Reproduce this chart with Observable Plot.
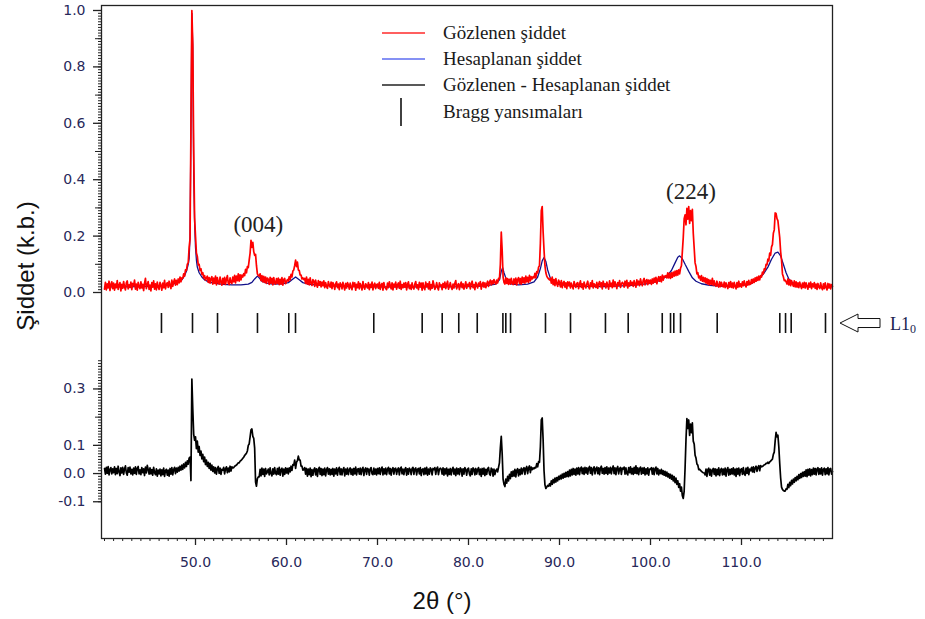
<!DOCTYPE html>
<html><head><meta charset="utf-8">
<script src="https://cdn.jsdelivr.net/npm/d3@7"></script>
<script src="https://cdn.jsdelivr.net/npm/@observablehq/plot@0.6"></script>
<style>body{margin:0;background:#fff}#chart{width:925px;height:619px}</style>
</head><body><div id="chart"></div>
<script>
// Observed intensity, ×0.001, from 2θ = 40.0° in steps of 0.1° (one row per degree)
const obsStart = 40.0, obsStep = 0.1;
const observed = [
12,36,9,31,16,40,7,28,38,14,
33,8,30,17,42,11,26,35,6,29,
15,39,20,9,34,41,13,27,18,37,
10,32,24,44,12,30,8,36,21,14,
38,16,29,7,33,50,14,27,39,11,
26,6,35,19,41,12,31,9,37,20,
11,36,25,8,33,17,43,13,29,35,
18,40,24,14,44,22,37,48,26,43,
28,48,34,55,38,52,50,66,58,80,
78,100,105,160,190,590,1000,880,510,265,
200,140,128,98,100,78,84,64,70,52,
60,44,52,58,36,53,33,49,56,30,
51,32,58,27,53,35,30,55,37,26,
50,31,54,29,47,60,33,28,52,36,
32,55,38,61,34,58,42,66,40,63,
45,62,55,67,60,82,70,92,88,115,
140,185,160,178,145,132,135,95,66,60,
58,66,42,60,38,57,36,55,32,51,
47,29,54,33,50,27,53,34,30,49,
33,51,28,47,30,53,26,46,50,31,
38,46,40,56,45,64,55,76,80,96,
115,92,108,80,78,62,62,48,52,46,
50,32,55,30,47,27,52,33,25,46,
40,22,44,28,19,42,26,39,20,37,
24,41,17,35,22,15,39,26,19,37,
14,35,27,11,31,38,17,30,10,34,
28,13,36,22,9,32,16,35,27,12,
33,19,10,36,21,34,8,29,17,38,
13,32,24,9,39,20,12,31,25,16,
35,10,29,18,37,9,26,33,14,28,
30,15,36,11,26,32,8,35,19,14,
10,33,17,38,25,13,34,9,30,20,
37,12,27,34,15,40,11,28,17,33,
19,35,9,29,38,14,26,11,34,18,
12,30,39,16,27,10,36,20,33,8,
34,17,10,37,21,31,13,38,9,28,
15,41,28,11,20,35,17,9,34,24,
27,10,32,18,37,14,29,40,12,22,
35,19,11,30,16,33,42,13,25,31,
10,28,37,17,31,12,24,38,15,29,
23,35,13,31,40,17,28,10,36,26,
16,33,24,39,12,29,36,19,34,17,
30,40,22,36,44,27,41,31,46,35,
30,44,34,50,48,100,214,150,55,36,
30,52,32,49,29,47,30,50,33,28,
48,31,51,27,46,53,32,49,30,55,
35,52,33,58,38,54,36,61,41,56,
48,56,52,68,52,74,70,90,95,175,
290,305,215,150,95,70,58,52,48,45,
50,33,55,28,46,24,49,31,22,44,
36,20,42,17,33,39,19,34,14,38,
24,37,16,33,22,13,39,27,18,32,
35,14,29,41,18,31,12,37,24,16,
30,40,20,13,34,22,42,16,31,26,
18,36,15,29,39,21,34,13,40,24,
31,16,37,26,12,41,22,33,17,44,
21,38,27,14,35,25,42,18,30,36,
32,19,40,25,43,16,34,23,41,27,
36,22,42,30,19,45,28,40,24,48,
34,24,43,50,27,41,46,28,44,33,
44,29,48,33,51,37,54,31,47,56,
40,56,38,62,44,58,55,60,52,70,
52,68,50,70,54,72,58,76,60,78,
62,80,66,86,95,145,195,262,275,240,
298,260,305,245,290,255,295,210,158,105,
92,66,70,52,58,44,60,40,54,38,
52,33,49,30,46,27,43,29,50,25,
41,28,22,40,25,19,38,21,36,24,
20,37,17,34,23,14,35,19,39,18,
33,16,36,22,13,35,18,40,21,31,
19,38,24,41,27,20,39,26,43,28,
30,46,33,48,36,52,40,55,43,58,
45,60,55,72,66,84,80,100,98,118,
112,140,132,162,170,210,222,282,280,262,
255,225,195,145,115,66,56,42,44,38,
30,48,27,45,24,42,30,22,41,20,
38,19,34,17,37,23,14,33,18,36,
16,34,21,12,33,19,37,14,31,20,
35,15,30,11,32,19,14,34,17,10,
31,14,34,18,9,32,16,30,13,28,
22];

// Calculated profile, read at these 2θ positions [deg, intensity]
const calculated = [
[40,0.020],[42,0.020],[44,0.021],[46,0.023],[47,0.026],[48,0.034],[48.5,0.045],[48.8,0.060],[49.0,0.075],
[49.2,0.100],[49.3,0.120],[49.4,0.200],[49.5,0.580],[49.6,0.990],[49.7,0.870],[49.8,0.420],[49.9,0.250],
[50.0,0.160],[50.1,0.115],[50.2,0.090],[50.4,0.070],[50.7,0.055],[51.0,0.045],[51.5,0.037],[52,0.033],
[53,0.029],[54,0.027],[55,0.027],[55.8,0.030],[56.2,0.036],[56.5,0.048],[56.8,0.058],[57.0,0.052],
[57.3,0.040],[57.8,0.033],[58.5,0.030],[59.5,0.031],[60.2,0.035],[60.6,0.045],[61.0,0.055],[61.4,0.045],
[61.8,0.035],[62.5,0.029],[64,0.025],[66,0.022],[70,0.020],[75,0.020],[80,0.021],[82,0.024],[83.0,0.030],
[83.4,0.045],[83.6,0.075],[83.75,0.088],[83.9,0.070],[84.2,0.042],[84.6,0.031],[85.5,0.027],[86.5,0.030],
[87.2,0.038],[87.6,0.055],[87.9,0.085],[88.1,0.112],[88.3,0.124],[88.5,0.110],[88.7,0.080],[89.0,0.050],
[89.4,0.035],[90,0.028],[92,0.022],[95,0.021],[98,0.025],[100,0.032],[101,0.042],[101.8,0.058],
[102.3,0.078],[102.7,0.105],[103.0,0.125],[103.2,0.130],[103.5,0.120],[103.8,0.100],[104.2,0.075],
[104.6,0.052],[105,0.040],[105.6,0.031],[106.5,0.025],[108,0.022],[110,0.025],[111,0.030],[111.8,0.045],
[112.4,0.065],[112.9,0.090],[113.3,0.118],[113.7,0.140],[114.0,0.143],[114.3,0.130],[114.6,0.100],
[114.9,0.070],[115.2,0.048],[115.6,0.035],[116.5,0.026],[118,0.022],[120,0.021]];

// Observed − calculated, ×0.001, same grid as observed
const difference = [
18,-2,22,1,25,-5,14,21,-1,17,
3,24,-4,18,0,26,6,-7,20,2,
22,-3,16,27,2,-6,21,5,23,-1,
15,-5,19,1,24,-3,18,25,-1,13,
-4,21,3,17,-7,23,2,29,15,-2,
20,-1,14,-6,22,3,-4,17,-9,12,
-1,16,-8,13,-4,19,-10,10,15,-6,
12,-9,18,-2,21,-5,14,22,0,19,
5,22,9,26,12,30,15,34,20,40,
25,45,33,55,58,-25,335,230,140,118,
130,88,115,76,96,64,80,52,68,42,
58,32,48,25,40,18,36,12,30,8,
24,2,21,-2,17,25,1,19,-3,15,
12,22,-1,17,24,3,19,6,26,9,
24,20,21,26,28,30,34,38,38,44,
46,50,54,58,64,68,72,80,100,105,
130,155,158,132,125,90,-30,-45,-18,-12,
-12,15,-8,19,-3,16,-10,18,-1,7,
16,-5,20,0,-8,17,-2,21,1,-4,
18,-2,22,-6,14,19,-9,16,-3,20,
2,18,-1,20,6,26,11,32,30,48,
18,40,46,62,48,48,26,26,12,14,
21,-2,18,-9,16,-4,19,-11,14,-6,
13,20,-5,17,-10,15,22,-3,18,-7,
16,-4,19,-8,14,21,-2,17,-5,15,
-3,18,-9,16,-1,20,-6,15,22,-4,
17,-5,14,21,-8,16,-2,19,-4,13,
20,-3,16,-6,18,-1,23,-5,15,17,
-2,19,-4,16,22,-7,14,20,-3,18,
15,-6,17,21,-1,-4,19,-2,16,-5,
18,0,20,-3,16,23,-5,17,-1,19,
-4,16,22,-1,18,-6,15,21,-2,17,
19,-3,14,20,-5,17,23,-1,16,-4,
15,21,-6,17,-2,19,14,-4,18,22,
-3,16,20,-5,15,18,-1,21,-7,14,
17,-4,19,-1,22,-6,16,-2,20,15,
-5,18,14,21,-3,17,23,-4,15,19,
16,-2,20,-6,17,-1,19,-8,15,-3,
18,-5,14,22,-2,16,-7,19,-1,17,
-4,20,15,-9,17,-2,21,14,-6,16,
19,-1,-8,17,-3,20,15,-5,18,-2,
14,21,-4,16,-10,18,-2,19,-7,15,
-3,17,22,-1,-6,19,15,-9,16,-4,
10,16,6,22,38,90,132,70,-20,-38,
-46,-20,-34,-10,-26,-3,-18,6,-10,9,
-9,15,-12,11,17,-8,14,-4,19,-1,
16,21,-3,18,25,0,20,27,3,23,
14,20,17,22,20,35,24,42,40,95,
190,197,120,10,-40,-53,-48,-42,-45,-36,
-44,-26,-38,-21,-33,-16,-30,-14,-26,-10,
-21,-6,-19,-2,-16,1,-13,4,-11,7,
-11,12,-8,15,-5,18,-3,16,-6,19,
-1,21,-4,17,23,0,19,-3,22,2,
20,-2,18,25,1,21,-5,17,24,-1,
17,23,0,20,-4,19,26,1,18,-2,
21,1,24,-3,19,2,22,-1,18,27,
0,20,-4,18,25,-1,17,22,-3,19,
16,23,-2,20,1,-5,21,3,24,-1,
18,-3,22,1,27,0,20,-4,17,23,
-2,19,1,21,-5,17,-1,20,-6,16,
15,21,-2,19,-4,17,23,-1,18,-5,
12,0,15,-3,10,-6,8,-9,5,-12,
0,-16,-3,-20,-6,-26,-11,-32,-16,-38,
-26,-49,-36,-62,-48,-79,-88,-62,20,120,
195,160,190,135,175,145,180,115,105,65,
55,34,30,14,15,11,8,5,3,2,
-5,16,-10,14,19,-6,15,-9,12,18,
-3,17,-8,15,-4,20,-7,13,18,-5,
16,-4,19,-9,14,21,-6,15,-3,17,
-1,20,-5,16,-10,18,-2,19,-7,14,
17,-3,21,-1,-6,19,1,22,-4,16,
10,22,6,24,4,20,26,8,22,28,
10,28,24,25,28,31,32,36,36,40,
36,41,44,48,51,68,76,116,146,130,
136,95,36,-15,-48,-56,-60,-62,-62,-54,
-56,-38,-50,-31,-43,-24,-37,-20,-31,-14,
-26,-10,-22,-4,-17,0,-14,4,-10,7,
-9,13,-11,15,-6,17,-8,14,-4,19,
-2,18,-5,16,21,-3,17,-1,20,-6,
15,19,-4,17,-1,21,-5,16,18,-2,
7];

// Bragg reflection positions (2θ, deg) for the L1₀ phase
const braggPositions = [46.26,49.67,52.42,56.81,60.25,60.99,69.59,74.91,77.11,78.93,80.96,83.78,84.10,84.62,
  88.46,91.21,95.05,97.55,101.29,102.20,102.56,103.30,107.33,114.21,114.84,115.46,119.23];

const xTickValues = [50,60,70,80,90,100,110];
const yTicksTop = [0,0.2,0.4,0.6,0.8,1.0];
const yTicksBottom = [-0.1,0.0,0.1,0.3];
const peakLabels = [{label:"(004)", x:56.9, y:0.241},{label:"(224)", x:104.45, y:0.358}];
const legendItems = [
  {label:"Gözlenen şiddet", color:"#ff2a2a", kind:"line"},
  {label:"Hesaplanan şiddet", color:"#5c6cf0", kind:"line"},
  {label:"Gözlenen - Hesaplanan şiddet", color:"#222", kind:"line"},
  {label:"Bragg yansımaları", color:"#111", kind:"bar"}];
const phaseLabel = "L1";
const phaseSub = "0";

// vertical offset of the difference panel (same unit scale as the top panel)
const diffOffset = 0.642;

const gridX = i => Math.round((obsStart + i*obsStep)*10)/10;
const obsData = observed.map((v,i) => ({x: gridX(i), y: v/1000}));
const calcData = calculated.map(([x,y]) => ({x, y}));
const diffData = difference.map((v,i) => ({x: gridX(i), y: v/1000 - diffOffset}));

const tickColor = "#222", labelColor = "#28285a";
const plot = Plot.plot({
  width: 925, height: 619,
  marginTop: 5, marginBottom: 81, marginLeft: 101, marginRight: 93,
  x: {domain: [39.67, 120.0], axis: null},
  y: {domain: [-0.8723, 1.0177], axis: null},
  style: {background: "white", fontFamily: "'DejaVu Sans', sans-serif", overflow: "visible"},
  marks: [
    Plot.line(calcData, {x:"x", y:"y", stroke:"#10108a", strokeWidth:1.3}),
    Plot.line(obsData, {x:"x", y:"y", stroke:"#ff0000", strokeWidth:1.7}),
    Plot.line(diffData, {x:"x", y:"y", stroke:"#000", strokeWidth:1.7}),
    Plot.ruleX(braggPositions, {x: d => d, y1: -0.0745, y2: -0.1454, stroke:"#111", strokeWidth:1.6}),
    Plot.text(peakLabels, {x:"x", y:"y", text:"label", fontFamily:"'Liberation Serif', serif", fontSize:23, fill:"#222"}),
    // x axis: minor, major + labels
    Plot.axisX(d3.range(40, 120, 1), {tickSize:3, tickFormat: () => "", stroke: tickColor, label: null}),
    Plot.axisX(xTickValues, {tickSize:7, tickPadding:12, tickFormat: d => d.toFixed(1), fontSize:14, fill: labelColor, stroke: tickColor, strokeWidth:1.3, label: null}),
    // y axis, top panel
    Plot.axisY(d3.range(0, 1.0001, 0.01), {tickSize:3, tickFormat: () => "", stroke: tickColor, label: null}),
    Plot.axisY(d3.range(0.1, 1.0001, 0.2), {tickSize:6, tickFormat: () => "", stroke: tickColor, label: null}),
    Plot.axisY(yTicksTop, {tickSize:8, tickPadding:8, tickFormat: d => d.toFixed(1), fontSize:14, fill: labelColor, stroke: tickColor, strokeWidth:1.3, label: null}),
    // y axis, difference panel
    Plot.axisY(d3.range(-0.1, 0.4001, 0.01).map(t => t - diffOffset), {tickSize:3, tickFormat: () => "", stroke: tickColor, label: null}),
    Plot.axisY([0.2 - diffOffset], {tickSize:6, tickFormat: () => "", stroke: tickColor, label: null}),
    Plot.axisY(yTicksBottom.map(t => t - diffOffset), {tickSize:8, tickPadding:8, tickFormat: d => (Math.round((d + diffOffset)*10)/10).toFixed(1), fontSize:14, fill: labelColor, stroke: tickColor, strokeWidth:1.3, label: null}),
    Plot.frame({stroke:"#222", strokeWidth:1.3}),
    Plot.text(["2θ (°)"], {text: d => d, frameAnchor:"bottom", textAnchor:"middle", lineAnchor:"bottom", dx:-25, dy:70, fontSize:24, fontFamily:"'Liberation Sans', Arial, sans-serif", fill:"#111"}),
    Plot.text(["Şiddet (k.b.)"], {text: d => d, frameAnchor:"left", textAnchor:"middle", lineAnchor:"bottom", rotate:-90, dx:-68, dy:-6, fontSize:24, fontFamily:"'Liberation Sans', Arial, sans-serif", fill:"#111"})
  ]
});
document.getElementById("chart").appendChild(plot);

// Legend (inside the plot area) and phase marker (right of the frame)
const svg = d3.select(plot);
const lg = svg.append("g").attr("font-family", "'Liberation Serif', serif").attr("font-size", 19)
  .attr("fill", "#1a1a1a").attr("text-anchor", "start");
legendItems.forEach((item, i) => {
  const cy = 33 + 26 * i + (item.kind === "bar" ? 1 : 0);
  if (item.kind === "line") {
    lg.append("line").attr("x1", 382).attr("x2", 425).attr("y1", cy).attr("y2", cy).attr("stroke", item.color).attr("stroke-width", 1.4);
  } else {
    lg.append("line").attr("x1", 401).attr("x2", 401).attr("y1", cy - 14).attr("y2", cy + 14).attr("stroke", item.color).attr("stroke-width", 1.6);
  }
  lg.append("text").attr("x", 443).attr("y", cy + 6).text(item.label);
});

const xs = plot.scale("x"), ys = plot.scale("y");
const ay = ys.apply(-0.11);
const ax = xs.apply(120.0) + 8;
svg.append("path")
  .attr("d", `M${ax},${ay} L${ax+18},${ay-9} L${ax+18},${ay-4.5} L${ax+40},${ay-4.5} L${ax+40},${ay+4.5} L${ax+18},${ay+4.5} L${ax+18},${ay+9} Z`)
  .attr("fill", "white").attr("stroke", "#111").attr("stroke-width", 1);
const pt = svg.append("text").attr("x", ax + 50).attr("y", ay + 7).attr("text-anchor", "start")
  .attr("font-family", "'Liberation Serif', serif").attr("font-size", 18).attr("fill", "#1c2550");
pt.append("tspan").text(phaseLabel);
pt.append("tspan").attr("font-size", 12).attr("dy", 3).text(phaseSub);
</script>
</body></html>
